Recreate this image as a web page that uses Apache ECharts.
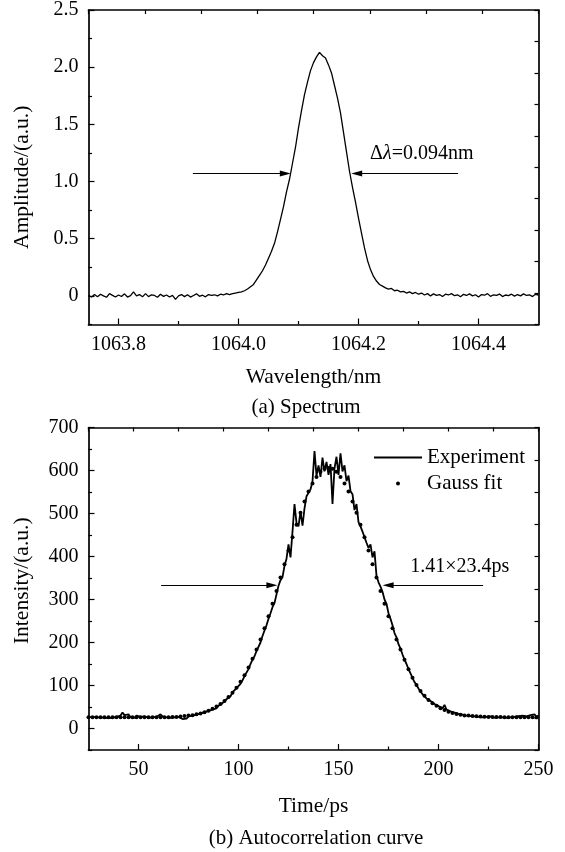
<!DOCTYPE html>
<html>
<head>
<meta charset="utf-8">
<script src="https://cdn.jsdelivr.net/npm/echarts@6/dist/echarts.min.js"></script>
<style>
  html, body { margin: 0; padding: 0; background: #fff; }
  #chart { width: 565px; height: 852px; }
</style>
</head>
<body>
<div id="chart"></div>
<script>
// (a) spectrum, sampled every 0.005 nm from 1063.75 nm
const specStart = 1063.75;
const specStep = 0.005;
const specAmplitude = [
  0.005, -0.01, 0.012, -0.008, 0.015, 0.0, -0.012, 0.02, 0.005, -0.01,
  0.008, -0.005, 0.018, -0.01, 0.002, 0.035, 0.0, 0.012, -0.008, 0.02,
  -0.006, 0.01, 0.004, -0.012, 0.015, -0.004, 0.008, -0.01, 0.005, -0.03,
  0.0, 0.012, -0.006, 0.01, -0.01, 0.004, 0.018, -0.004, 0.006, -0.008,
  0.012, 0.004, 0.01, 0.0, 0.015, 0.008, 0.02, 0.012,
  0.02, 0.025, 0.03, 0.035, 0.045, 0.06, 0.08, 0.1, 0.14, 0.18,
  0.22, 0.27, 0.33, 0.39, 0.46, 0.56, 0.67, 0.78, 0.91, 1.02,
  1.16, 1.30, 1.47, 1.62, 1.76, 1.87, 1.97, 2.04, 2.09, 2.13,
  2.10, 2.08, 2.02, 1.95, 1.84, 1.73, 1.60, 1.43, 1.26, 1.09,
  0.95, 0.82, 0.68, 0.55, 0.42, 0.31, 0.23, 0.17, 0.13, 0.10,
  0.085, 0.07, 0.06, 0.065, 0.045, 0.05, 0.035, 0.04, 0.025, 0.035,
  0.02, 0.03, 0.015,
  0.025, 0.008, 0.02, 0.0, 0.018, 0.005, 0.012, -0.005, 0.015, 0.008,
  0.02, 0.002, 0.01, -0.008, 0.014, 0.004, 0.018, 0.0, 0.01, -0.01,
  0.012, 0.006, 0.02, -0.004, 0.01, 0.004, 0.016, -0.006, 0.008, 0.002,
  0.015, -0.002, 0.012, 0.0, 0.018, 0.004, 0.01, -0.006, 0.014, 0.008
];
const specArrowY = 1.07;
const specArrows = [[1063.924, 1064.078], [1064.366, 1064.197]];
const specNote = [1064.3055, 1.24];

// (b) autocorrelation, measured every 1 ps from 25 ps
const expStart = 25;
const expStep = 1;
const expIntensity = [
  26, 25, 27, 25, 26, 24, 26, 27, 25, 26,
  24, 27, 25, 26, 27, 25, 30, 37, 31, 27,
  33, 26, 28, 25, 30, 26, 27, 25, 28, 26,
  25, 27, 26, 28, 27, 31, 33, 28, 27, 26,
  28, 25, 27, 26, 28, 27, 24, 22, 25, 23,
  28, 27, 30, 29, 32, 31, 35, 34, 38, 36,
  41, 42, 44, 48, 47, 53, 55, 59, 62, 68,
  66, 75, 84, 82, 94, 98, 104, 112, 122, 126,
  138, 150, 160, 168, 180, 176, 200, 215, 228, 240,
  255, 268, 282, 292, 312, 332, 345, 352, 378, 395,
  428, 398, 458, 522, 478, 470, 505, 472, 512, 540,
  548, 556, 575, 645, 588, 612, 585, 630, 598, 620,
  590, 615, 522, 605, 632, 590, 640, 598, 612, 575,
  588, 552, 545, 508, 522, 480, 470, 458, 445, 432,
  420, 428, 398, 412, 355, 340, 330, 318, 300, 290,
  268, 255, 240, 222, 212, 196, 186, 172, 160, 150,
  138, 128, 118, 108, 101, 93, 86, 80, 76, 70,
  72, 64, 60, 57, 54, 52, 48, 47, 55, 44,
  42, 40, 38, 37, 35, 34, 33, 32, 31, 30,
  31, 29, 30, 28, 29, 27, 28, 26, 28, 27,
  26, 28, 27, 25, 27, 26, 28, 26, 27, 25,
  27, 26, 28, 27, 26, 29, 27, 30, 26, 28,
  27, 31, 28, 33, 27, 30
];
// Gauss fit points every 2 ps from 25 ps
const fitStart = 25;
const fitStep = 2;
const fitIntensity = [
  26, 26, 26, 26, 26, 26, 26, 26, 26, 26,
  26, 26, 26, 26, 26, 26, 26, 26, 26, 26,
  26, 26.5, 27, 28, 29, 30, 31, 33, 35, 38,
  41, 46, 51, 57, 64, 73, 83, 95, 109, 124,
  142, 162, 184, 207, 233, 261, 290, 320, 351, 382,
  414, 445, 474, 502, 528, 551, 570, 585, 597, 604,
  606, 604, 597, 585, 570, 551, 528, 502, 474, 445,
  414, 382, 351, 320, 290, 261, 233, 207, 184, 160,
  138, 118, 101, 87, 76, 66, 59, 53, 47, 43,
  39, 36, 34, 32, 30.5, 30, 29, 28.5, 28, 27.5,
  27, 27, 26.5, 26.5, 26, 26, 26, 26, 26, 26,
  26, 26, 26
];
const acArrowY = 333;
const acArrows = [[61.3, 116.7], [222.3, 174.8]];
const acNote = [210.6, 376];

const specTicks = [1063.8, 1064.0, 1064.2, 1064.4];
const specMinorTicks = [1063.9, 1064.1, 1064.3];
const ampTicks = [0, 0.5, 1.0, 1.5, 2.0, 2.5];
const ampMinorTicks = [-0.25, 0.25, 0.75, 1.25, 1.75, 2.25];
const timeTicks = [50, 100, 150, 200, 250];
const timeMinorTicks = [75, 125, 175, 225];
const intTicks = [0, 100, 200, 300, 400, 500, 600, 700];
const intMinorTicks = [-50, 50, 150, 250, 350, 450, 550, 650];

const font = 'Liberation Serif';
const ink = '#000';

function pairs(start, step, values) {
  return values.map((v, i) => [+(start + i * step).toFixed(4), v]);
}

function baseAxis(gridIndex, position, min, max) {
  return {
    type: 'value', gridIndex, position, min, max,
    axisLine: { show: false, onZero: false, lineStyle: { color: ink, width: 1.7 } },
    axisTick: { show: true, inside: true, length: 5, lineStyle: { color: ink, width: 1.2 } },
    axisLabel: { show: false },
    splitLine: { show: false }
  };
}

function majorAxis(gridIndex, position, min, max, ticks, fmt, name, gap, pad) {
  const a = baseAxis(gridIndex, position, min, max);
  a.axisLine.show = true;
  a.axisTick.length = 6;
  a.axisTick.customValues = ticks;
  a.axisLabel = {
    show: true, customValues: ticks, formatter: fmt, margin: 10,
    fontFamily: font, fontSize: 20, color: ink
  };
  a.name = name;
  a.nameLocation = 'middle';
  a.nameGap = gap;
  a.nameTextStyle = { fontFamily: font, fontSize: 21.5, color: ink, padding: pad || 0 };
  return a;
}

function minorAxis(gridIndex, position, min, max, ticks) {
  const a = baseAxis(gridIndex, position, min, max);
  a.axisTick.length = 3.5;
  a.axisTick.customValues = ticks;
  return a;
}

function frameAxis(gridIndex, position, parts) {
  const a = baseAxis(gridIndex, position, 0, parts);
  a.interval = 1;
  a.axisLine.show = true;
  a.axisTick.length = 4;
  return a;
}

function arrowLines(arrows, y) {
  return arrows.map(a => [{ coord: [a[0], y] }, { coord: [a[1], y] }]);
}

const arrowStyle = {
  silent: true,
  symbol: ['none', 'triangle'],
  symbolSize: [6, 11],
  lineStyle: { color: ink, width: 1.2, type: 'solid' },
  itemStyle: { color: ink },
  label: { show: false },
  emphasis: { disabled: true }
};

const chart = echarts.init(document.getElementById('chart'), null, { renderer: 'canvas' });

const option = {
  animation: false,
  backgroundColor: '#fff',
  grid: [
    { left: 88.5, top: 10, width: 450, height: 314.5, outerBoundsMode: 'none' },
    { left: 88.5, top: 427.5, width: 450, height: 322.5, outerBoundsMode: 'none' }
  ],
  xAxis: [
    majorAxis(0, 'bottom', 1063.75, 1064.5, specTicks, v => v.toFixed(1), 'Wavelength/nm', 42),
    minorAxis(0, 'bottom', 1063.75, 1064.5, specMinorTicks),
    frameAxis(0, 'top', 8),
    majorAxis(1, 'bottom', 25, 250, timeTicks, v => String(v), 'Time/ps', 45),
    minorAxis(1, 'bottom', 25, 250, timeMinorTicks),
    frameAxis(1, 'top', 10)
  ],
  yAxis: [
    majorAxis(0, 'left', -0.25, 2.5, ampTicks, v => (v === 0 ? '0' : v.toFixed(1)), 'Amplitude/(a.u.)', 55, [0, 20, 0, 0]),
    minorAxis(0, 'left', -0.25, 2.5, ampMinorTicks),
    frameAxis(0, 'right', 10),
    majorAxis(1, 'left', -50, 700, intTicks, v => String(v), 'Intensity/(a.u.)', 55, [0, 0, 0, 16]),
    minorAxis(1, 'left', -50, 700, intMinorTicks),
    frameAxis(1, 'right', 10)
  ],
  legend: {
    data: [
      { name: 'Experiment', itemStyle: { color: 'rgba(0,0,0,0)', borderWidth: 0 } },
      { name: 'Gauss fit' }
    ],
    orient: 'vertical',
    left: 368, top: 442,
    itemWidth: 48, itemHeight: 5, itemGap: 5,
    selectedMode: false,
    textStyle: { fontFamily: font, fontSize: 21, color: ink }
  },
  graphic: [
    { type: 'text', x: 306, y: 407, silent: true,
      style: { text: '(a) Spectrum', fontFamily: font, fontSize: 21, fill: ink, align: 'center', verticalAlign: 'middle' } },
    { type: 'text', x: 316, y: 838, silent: true,
      style: { text: '(b) Autocorrelation curve', fontFamily: font, fontSize: 21, fill: ink, align: 'center', verticalAlign: 'middle' } }
  ],
  series: [
    {
      name: 'Spectrum', type: 'line', xAxisIndex: 0, yAxisIndex: 0,
      data: pairs(specStart, specStep, specAmplitude),
      symbol: 'none', lineStyle: { color: ink, width: 1.3 },
      markLine: Object.assign({ data: arrowLines(specArrows, specArrowY) }, arrowStyle),
      markPoint: {
        silent: true, symbol: 'circle', symbolSize: 0,
        label: {
          show: true, position: 'inside', color: ink,
          formatter: '{a|Δ}{b|λ}{a|=0.094nm}',
          rich: {
            a: { fontFamily: font, fontSize: 20, color: ink },
            b: { fontFamily: font, fontSize: 20, fontStyle: 'italic', color: ink }
          }
        },
        data: [{ coord: specNote }]
      }
    },
    {
      name: 'Experiment', type: 'line', xAxisIndex: 3, yAxisIndex: 3,
      data: pairs(expStart, expStep, expIntensity),
      symbol: 'none', lineStyle: { color: ink, width: 1.8 }, itemStyle: { color: ink },
      z: 3
    },
    {
      name: 'Gauss fit', type: 'line', xAxisIndex: 3, yAxisIndex: 3,
      data: pairs(fitStart, fitStep, fitIntensity),
      symbol: 'circle', symbolSize: 4, showSymbol: true,
      lineStyle: { width: 0, color: ink }, itemStyle: { color: ink, borderWidth: 0 },
      z: 2,
      markLine: Object.assign({ data: arrowLines(acArrows, acArrowY) }, arrowStyle),
      markPoint: {
        silent: true, symbol: 'circle', symbolSize: 0,
        label: {
          show: true, position: 'inside', color: ink,
          fontFamily: font, fontSize: 20, formatter: '1.41×23.4ps'
        },
        data: [{ coord: acNote }]
      }
    }
  ]
};

chart.setOption(option);
</script>
</body>
</html>
